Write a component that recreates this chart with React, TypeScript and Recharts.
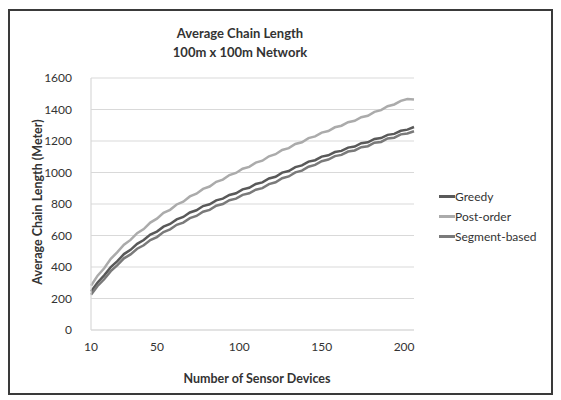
// Average chain length vs number of sensor devices (100m x 100m)
import { LineChart, Line, XAxis, YAxis, CartesianGrid } from 'recharts'

const devices = [
  10, 14, 18, 22, 26, 30, 34, 38, 42, 46, 50, 54, 58, 62, 66, 70, 74, 78, 82, 86,
  90, 94, 98, 102, 106, 110, 114, 118, 122, 126, 130, 134, 138, 142, 146, 150, 154, 158, 162, 166,
  170, 174, 178, 182, 186, 190, 194, 198, 202, 206,
]

const greedy = [
  245, 302, 347, 399, 437, 482, 509, 547, 571, 606, 625, 656, 673, 702, 718, 746, 760, 787, 798, 823,
  834, 857, 868, 893, 903, 927, 937, 962, 973, 999, 1009, 1034, 1045, 1069, 1078, 1101, 1109, 1130, 1137, 1158,
  1165, 1186, 1192, 1213, 1219, 1239, 1245, 1265, 1272, 1289,
]

const postOrder = [
  281, 345, 392, 452, 494, 541, 572, 615, 641, 682, 707, 744, 763, 797, 815, 848, 865, 896, 911, 941,
  955, 984, 997, 1024, 1036, 1063, 1075, 1103, 1116, 1143, 1155, 1181, 1192, 1218, 1229, 1253, 1263, 1287, 1297, 1319,
  1328, 1351, 1360, 1385, 1396, 1421, 1432, 1455, 1466, 1463,
]

const segmentBased = [
  224, 280, 322, 374, 412, 455, 480, 516, 538, 571, 590, 622, 639, 668, 682, 710, 724, 751, 763, 789,
  800, 824, 834, 858, 868, 891, 901, 926, 938, 964, 975, 1001, 1012, 1037, 1048, 1072, 1082, 1104, 1112, 1133,
  1140, 1161, 1167, 1189, 1194, 1216, 1221, 1242, 1248, 1262,
]

const xTicks = [10, 50, 100, 150, 200]
const yTicks = [0, 200, 400, 600, 800, 1000, 1200, 1400, 1600]

const series = [
  { key: 'greedy', name: 'Greedy', color: '#595959' },
  { key: 'postOrder', name: 'Post-order', color: '#ababab' },
  { key: 'segmentBased', name: 'Segment-based', color: '#7a7a7a' },
]

const data = devices.map((n, i) => ({
  n,
  greedy: greedy[i],
  postOrder: postOrder[i],
  segmentBased: segmentBased[i],
}))

const FONT = 'Lato, "Open Sans", sans-serif'
const GRID = '#d9d9d9'

export default function App() {
  return (
    <div style={{ position: 'relative', width: 545, height: 387, fontFamily: FONT }}>
      <div style={{
        position: 'absolute', left: 0, top: 1, width: 545, height: 386,
        border: '2px solid #3a3a3a', boxSizing: 'border-box',
      }} />
      <div style={{
        position: 'absolute', left: 132, width: 200, top: 16, textAlign: 'center',
        fontWeight: 700, fontSize: 13, lineHeight: '19px', color: '#333',
      }}>
        <div>Average Chain Length</div>
        <div>100m x 100m Network</div>
      </div>
      <div style={{ position: 'absolute', left: 29, top: 194, width: 0, height: 0 }}>
        <div style={{
          position: 'absolute', transform: 'translate(-50%, -50%) rotate(-90deg)',
          whiteSpace: 'nowrap', fontWeight: 700, fontSize: 12.5, color: '#333',
        }}>
          Average Chain Length (Meter)
        </div>
      </div>
      <div style={{
        position: 'absolute', left: 149, width: 200, top: 363, textAlign: 'center',
        fontWeight: 700, fontSize: 12.5, color: '#333',
      }}>
        Number of Sensor Devices
      </div>
      <div style={{ position: 'absolute', left: 431, top: 178, fontSize: 12, color: '#333' }}>
        {series.map((s) => (
          <div key={s.key} style={{ display: 'flex', alignItems: 'center', height: 20 }}>
            <span style={{ display: 'inline-block', width: 16, height: 3, background: s.color }} />
            <span>{s.name}</span>
          </div>
        ))}
      </div>
      <div style={{ position: 'absolute', left: 0, top: 0 }}>
        <LineChart width={545} height={387} data={data} margin={{ top: 70, right: 139, left: 0, bottom: 35 }}>
          <CartesianGrid vertical={false} stroke={GRID} strokeWidth={1.2} />
          <XAxis
            dataKey="n"
            type="number"
            domain={[10, 206]}
            ticks={xTicks}
            axisLine={{ stroke: GRID, strokeWidth: 1.2 }}
            tickLine={false}
            tickSize={0}
            tickMargin={12}
            height={30}
            tick={{ fontSize: 12, fill: '#333', fontFamily: FONT }}
          />
          <YAxis
            domain={[0, 1600]}
            ticks={yTicks}
            width={83}
            axisLine={{ stroke: GRID, strokeWidth: 1.2 }}
            tickLine={false}
            tickSize={0}
            tickMargin={19}
            tick={{ fontSize: 12, fill: '#333', fontFamily: FONT }}
          />
          {series.map((s) => (
            <Line
              key={s.key}
              dataKey={s.key}
              name={s.name}
              stroke={s.color}
              strokeWidth={2.5}
              dot={false}
              isAnimationActive={false}
            />
          ))}
        </LineChart>
      </div>
    </div>
  )
}
